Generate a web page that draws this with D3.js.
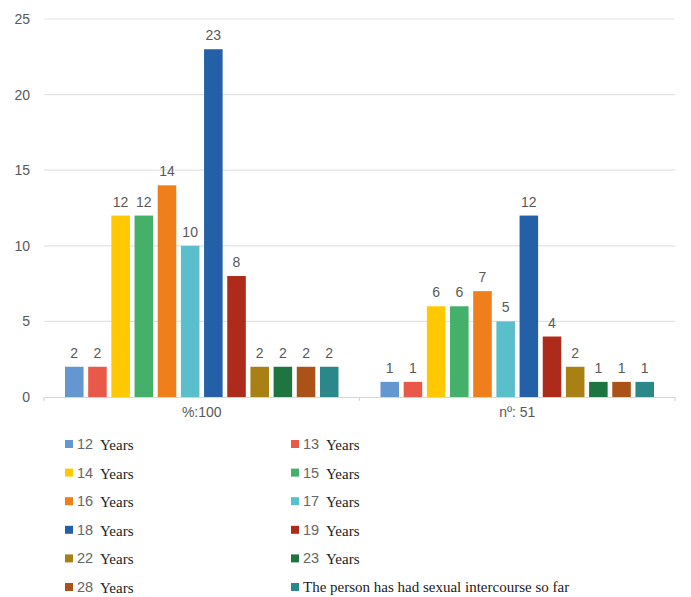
<!DOCTYPE html>
<html><head><meta charset="utf-8">
<script src="https://cdn.jsdelivr.net/npm/d3@7"></script>
<style>body{margin:0;background:#fff;}</style>
</head><body>
<svg id="c" width="691" height="597"></svg>
<script>
const categories = ["%:100", "nº: 51"];
const seriesNames = ["12 Years","13 Years","14 Years","15 Years","16 Years","17 Years","18 Years","19 Years","22 Years","23 Years","28 Years","The person has had sexual intercourse so far"];
const legendNums = ["12","13","14","15","16","17","18","19","22","23","28",""];
const pctValues = [2,2,12,12,14,10,23,8,2,2,2,2];
const countValues = [1,1,6,6,7,5,12,4,2,1,1,1];
const colors = ["#6496D0","#E8594A","#FFC800","#45B06A","#EF7F1A","#5BBFCB","#2460A7","#AE2A1A","#A88014","#1F7540","#AA5217","#2A878A"];
const yTicks = [0,5,10,15,20,25];

const svg = d3.select("#c");
const m = {l:44, r:675, t:19, b:397};
const x0 = d3.scaleBand().domain(categories).range([m.l, m.r]).paddingInner(0).paddingOuter(0);
const x1 = d3.scaleBand().domain(d3.range(seriesNames.length)).range([21, x0.bandwidth()-21]).paddingInner(0.2).paddingOuter(0);
const y = d3.scaleLinear().domain([0,25]).range([m.b, m.t]);

// gridlines
svg.append("g").selectAll("line").data(yTicks.filter(d=>d>0)).join("line")
  .attr("x1", m.l).attr("x2", m.r).attr("y1", d=>y(d)).attr("y2", d=>y(d))
  .attr("stroke","#e3e3e3").attr("stroke-width",1.2);

// y axis labels
const yAxis = d3.axisLeft(y).tickValues(yTicks).tickSize(0).tickPadding(14);
const ya = svg.append("g").attr("transform",`translate(${m.l},0)`).call(yAxis);
ya.select(".domain").remove();
ya.selectAll("text").attr("fill","#595959").style("font-family","'Liberation Sans', Arial, sans-serif").style("font-size","14px");

// x axis
const xAxis = d3.axisBottom(x0).tickSize(0).tickPadding(10);
const xa = svg.append("g").attr("transform",`translate(0,${m.b})`).call(xAxis);
xa.select(".domain").attr("stroke","#d6d6d6").attr("stroke-width",1.2);
xa.selectAll("text").attr("fill","#595959").style("font-family","'Liberation Sans', Arial, sans-serif").style("font-size","14px");
// category boundary ticks
svg.append("g").selectAll("line").data([m.l, x0(categories[1]), m.r]).join("line")
  .attr("x1",d=>d).attr("x2",d=>d).attr("y1",m.b).attr("y2",m.b+4).attr("stroke","#d6d6d6").attr("stroke-width",1.2);

const groups = [pctValues, countValues];
categories.forEach((c,ci)=>{
  const g = svg.append("g").attr("transform",`translate(${x0(c)},0)`);
  const vals = groups[ci];
  g.selectAll("rect").data(vals).join("rect")
    .attr("x",(d,i)=>x1(i)).attr("width",x1.bandwidth())
    .attr("y",d=>y(d)).attr("height",d=>y(0)-y(d))
    .attr("fill",(d,i)=>colors[i]);
  g.selectAll("text").data(vals).join("text")
    .attr("x",(d,i)=>x1(i)+x1.bandwidth()/2).attr("y",d=>y(d)-9)
    .attr("text-anchor","middle").attr("fill","#595959")
    .style("font-family","'Liberation Sans', Arial, sans-serif").style("font-size","14px")
    .text(d=>d);
});

// legend
const lg = svg.append("g");
seriesNames.forEach((s,i)=>{
  const col = i%2, row = Math.floor(i/2);
  const lx = col===0 ? 65 : 291;
  const ly = 444 + row*28.6;
  const it = lg.append("g").attr("transform",`translate(${lx},${ly})`);
  it.append("rect").attr("x",0).attr("y",-4).attr("width",8).attr("height",8).attr("fill",colors[i]);
  if (legendNums[i]) {
    it.append("text").attr("x",12).attr("y",5).attr("fill","#666")
      .style("font-family","'Liberation Sans', Arial, sans-serif").style("font-size","14.5px").text(legendNums[i]);
    it.append("text").attr("x",35).attr("y",6).attr("fill","#222")
      .style("font-family","'Liberation Serif', 'Times New Roman', serif").style("font-size","15px").text("Years");
  } else {
    it.append("text").attr("x",12).attr("y",5).attr("fill","#222")
      .style("font-family","'Liberation Serif', 'Times New Roman', serif").style("font-size","15px").text(s);
  }
});
</script>
</body></html>
